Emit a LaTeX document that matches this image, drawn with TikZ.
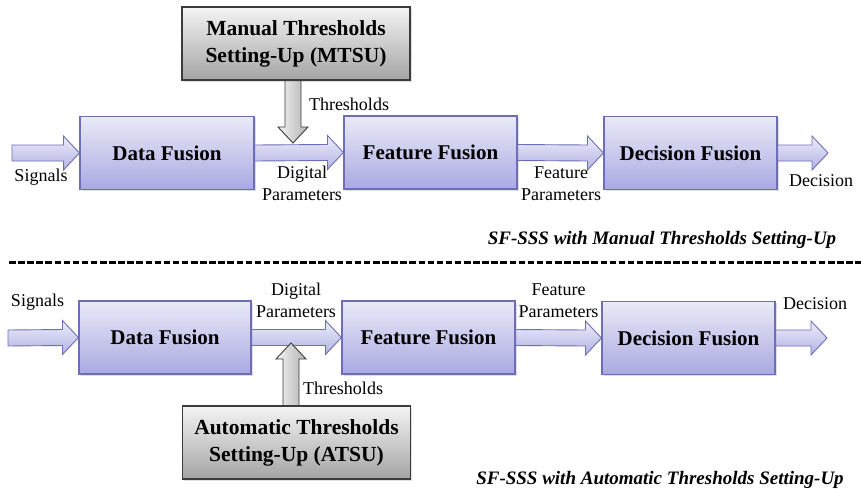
\documentclass[tikz,border=0pt]{standalone}
\usepackage{fontspec}
\setmainfont{Liberation Serif}
\usetikzlibrary{calc,shadows}
\definecolor{lavtop}{HTML}{EAEAF8}
\definecolor{lavbot}{HTML}{A9A9E2}
\definecolor{lavline}{HTML}{6E6EB8}
\definecolor{grtop}{HTML}{F4F4F4}
\definecolor{grbot}{HTML}{A4A4A4}
\definecolor{grline}{HTML}{3C3C3C}
\tikzset{
  fusebox/.style={draw=lavline, line width=1.1pt, top color=lavtop, bottom color=lavbot,
    minimum width=#1, minimum height=73pt, inner sep=0pt,
    font=\fontsize{21}{23}\selectfont\bfseries,
    drop shadow={shadow xshift=1.5pt, shadow yshift=-1.5pt, opacity=0.25}},
  setbox/.style={draw=grline, line width=1.1pt, top color=grtop, bottom color=grbot,
    minimum width=228pt, minimum height=73pt, inner sep=0pt, align=center,
    font=\fontsize{21.5}{27}\selectfont\bfseries,
    drop shadow={shadow xshift=1.5pt, shadow yshift=-1.5pt, opacity=0.25}},
  blkarrow/.style={draw=lavline, line width=0.9pt, top color=lavtop!85!white, bottom color=lavbot!90!white, line join=miter},
  grarrow/.style={draw=grline, line width=0.9pt, left color=grtop, right color=grbot!85!white, line join=miter},
  lbl/.style={font=\fontsize{18}{22.5}\selectfont, align=center, inner sep=0pt},
  captext/.style={font=\fontsize{19}{22}\selectfont\bfseries\itshape, inner sep=0pt},
}
% horizontal block arrow from #1 to #2 (tip)
\newcommand\hblk[2]{%
  \path[blkarrow] ($(#1)+(0,-8)$) -- ($(#2)+(-16,-8)$) -- ($(#2)+(-16,-17)$) -- (#2)
    -- ($(#2)+(-16,17)$) -- ($(#2)+(-16,8)$) -- ($(#1)+(0,8)$) -- cycle;}
% vertical block arrow from #1 to #2 (tip), #3 = +1 down / -1 up
\newcommand\vblk[3]{%
  \path[grarrow] ($(#1)+(-8,0)$) -- ($(#2)+(-8,-16*#3)$) -- ($(#2)+(-15,-16*#3)$) -- (#2)
    -- ($(#2)+(15,-16*#3)$) -- ($(#2)+(8,-16*#3)$) -- ($(#1)+(8,0)$) -- cycle;}
\begin{document}
\begin{tikzpicture}[x=1pt,y=-1pt]
\useasboundingbox (0,0) rectangle (861,488);
% ---------- top ----------
\node[fusebox=174pt] (df) at (167,153) {Data Fusion};
\node[fusebox=173pt] (ff) at (430.5,152.5) {Feature Fusion};
\node[fusebox=173pt] (dcf) at (690.5,153) {Decision Fusion};
\node[setbox] (mtsu) at (296,43.5) {Manual Thresholds\\Setting-Up (MTSU)};
\coordinate (sin) at (12,153);
\coordinate (dout) at (828,153);
\coordinate (ttip) at (293,143);
\hblk{sin}{df.west}
\hblk{df.east}{ff.west}
\hblk{ff.east}{dcf.west}
\hblk{dcf.east}{dout}
\vblk{ttip |- mtsu.south}{ttip}{1}
\node[lbl] (sig) at (41,177) {Signals};
\node[lbl] (thr) at (349,104) {Thresholds};
\node[lbl] (dp) at (302,183.5) {Digital\\Parameters};
\node[lbl] (fp) at (561,183.5) {Feature\\Parameters};
\node[lbl] (dec) at (821,181) {Decision};
\node[captext] (cap1) at (662,240) {SF-SSS with Manual Thresholds Setting-Up};
% ---------- separator ----------
\coordinate (la) at (9,262.5);
\coordinate (lb) at (861,262.5);
\draw[line width=2.4pt, dash pattern=on 6.5pt off 2.6pt] (la) -- (lb);
% ---------- bottom ----------
\node[fusebox=172pt] (df2) at (165,337.5) {Data Fusion};
\node[fusebox=173pt] (ff2) at (428.5,337.5) {Feature Fusion};
\node[fusebox=173pt] (dcf2) at (688.5,338) {Decision Fusion};
\node[setbox] (atsu) at (296.5,442.5) {Automatic Thresholds\\Setting-Up (ATSU)};
\coordinate (sin2) at (8,338);
\coordinate (dout2) at (827,338);
\coordinate (ttip2) at (291,343);
\hblk{sin2}{df2.west}
\hblk{df2.east}{ff2.west}
\hblk{ff2.east}{dcf2.west}
\hblk{dcf2.east}{dout2}
\vblk{ttip2 |- atsu.north}{ttip2}{-1}
\node[lbl] (sig2) at (37.5,302) {Signals};
\node[lbl] (thr2) at (343,388) {Thresholds};
\node[lbl] (dp2) at (296,300.5) {Digital\\Parameters};
\node[lbl] (fp2) at (558.5,300.5) {Feature\\Parameters};
\node[lbl] (dec2) at (815,304) {Decision};
\node[captext] (cap2) at (660,480) {SF-SSS with Automatic Thresholds Setting-Up};
\end{tikzpicture}
\end{document}
